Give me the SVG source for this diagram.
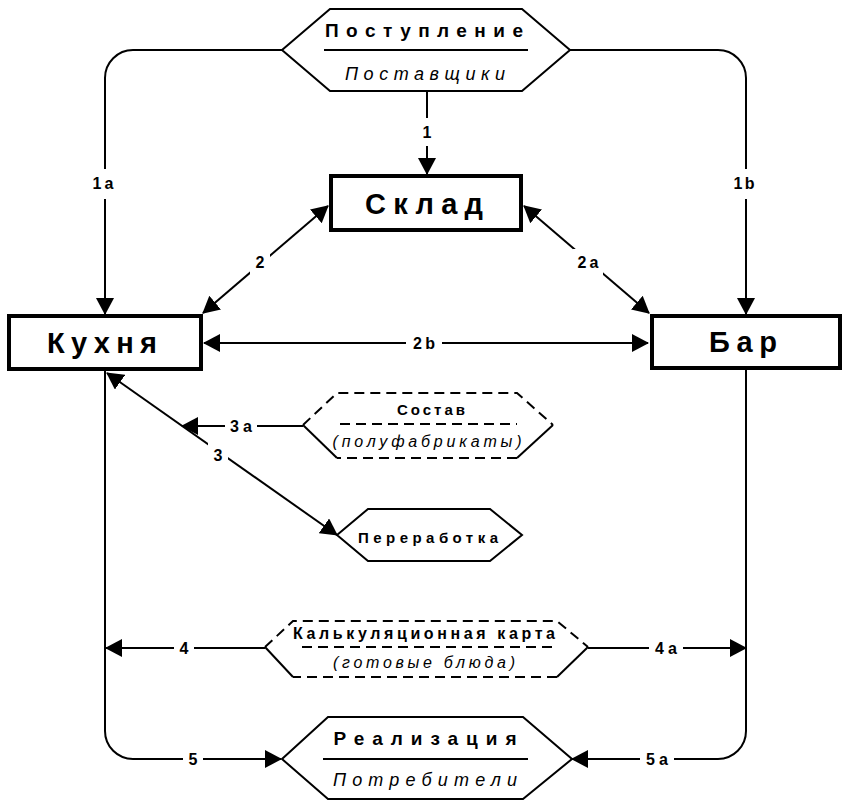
<svg xmlns="http://www.w3.org/2000/svg" width="843" height="800" viewBox="0 0 843 800">
<style>
.bg{fill:#fff}
.box{fill:#fff;stroke:#000;stroke-width:4}
.hex{fill:#fff;stroke:#000;stroke-width:2;stroke-linejoin:miter}
.dash{fill:none;stroke:#000;stroke-width:2;stroke-dasharray:10 6}
.solid{fill:none;stroke:#000;stroke-width:2}
.conn{fill:none;stroke:#000;stroke-width:2}
.big{font-family:"Liberation Sans",Arial,sans-serif;font-weight:bold;font-size:29px;text-anchor:middle;fill:#000}
.ttl{font-family:"Liberation Sans",Arial,sans-serif;font-weight:bold;font-size:19px;text-anchor:middle;fill:#000}
.sub{font-family:"Liberation Sans",Arial,sans-serif;font-style:italic;font-size:18px;text-anchor:middle;fill:#000}
.sm{font-family:"Liberation Sans",Arial,sans-serif;font-weight:bold;font-size:15px;text-anchor:middle;fill:#000}
.smi{font-family:"Liberation Sans",Arial,sans-serif;font-style:italic;font-size:16px;text-anchor:middle;fill:#000}
.lbl{font-family:"Liberation Sans",Arial,sans-serif;font-weight:bold;font-size:16px;text-anchor:middle;fill:#000}
.lb{fill:#fff;stroke:none}
</style>
<defs>
<marker id="ah" markerUnits="userSpaceOnUse" markerWidth="17" markerHeight="18" refX="16" refY="9" orient="auto-start-reverse" viewBox="0 0 17 18">
<path d="M0,0 L17,9 L0,18 z" fill="#000"/>
</marker>
</defs>
<rect class="bg" x="0" y="0" width="843" height="800"/>

<g id="connectors">
<path class="conn" d="M282,50 H133 A28,28 0 0 0 105,78 V314" marker-end="url(#ah)"/>
<path class="conn" d="M570,50 H718 A28,28 0 0 1 746,78 V314" marker-end="url(#ah)"/>
<path class="conn" d="M427,91 V174" marker-end="url(#ah)"/>
<path class="conn" d="M203,313 L328,206" marker-start="url(#ah)" marker-end="url(#ah)"/>
<path class="conn" d="M524,206 L649,313" marker-start="url(#ah)" marker-end="url(#ah)"/>
<path class="conn" d="M204,343 H648" marker-start="url(#ah)" marker-end="url(#ah)"/>
<path class="conn" d="M107,373 L337,535" marker-start="url(#ah)" marker-end="url(#ah)"/>
<path class="conn" d="M303,426 H182" marker-end="url(#ah)"/>
<path class="conn" d="M265,648 H106" marker-end="url(#ah)"/>
<path class="conn" d="M588,648 H746" marker-end="url(#ah)"/>
<path class="conn" d="M105,371 V731 A28,28 0 0 0 133,759 H281" marker-end="url(#ah)"/>
<path class="conn" d="M746,370 V731 A28,28 0 0 1 718,759 H572" marker-end="url(#ah)"/>
<g id="labels">
<rect class="lb" x="90" y="169" width="28" height="30"/><text class="lbl" x="103" y="189" textLength="21" lengthAdjust="spacing">1a</text>
<rect class="lb" x="730" y="169" width="28" height="30"/><text class="lbl" x="744" y="189" textLength="21" lengthAdjust="spacing">1b</text>
<rect class="lb" x="419" y="118" width="16" height="28"/><text class="lbl" x="427" y="138">1</text>
<rect class="lb" x="250" y="249" width="20" height="26"/><text class="lbl" x="260" y="268">2</text>
<rect class="lb" x="573" y="249" width="30" height="26"/><text class="lbl" x="588" y="268" textLength="21" lengthAdjust="spacing">2a</text>
<rect class="lb" x="406" y="333" width="36" height="20"/><text class="lbl" x="424" y="349" textLength="22" lengthAdjust="spacing">2b</text>
<rect class="lb" x="208" y="441" width="20" height="26"/><text class="lbl" x="218" y="461">3</text>
<rect class="lb" x="225" y="416" width="32" height="20"/><text class="lbl" x="241" y="432" textLength="22" lengthAdjust="spacing">3a</text>
<rect class="lb" x="174" y="638" width="20" height="20"/><text class="lbl" x="184" y="654">4</text>
<rect class="lb" x="649" y="638" width="34" height="20"/><text class="lbl" x="666" y="654" textLength="22" lengthAdjust="spacing">4a</text>
<rect class="lb" x="183" y="749" width="20" height="20"/><text class="lbl" x="193" y="765">5</text>
<rect class="lb" x="640" y="749" width="34" height="20"/><text class="lbl" x="657" y="765" textLength="22" lengthAdjust="spacing">5a</text>
</g>
</g>

<g id="postuplenie">
<polygon class="hex" points="282,50 330,9 522,9 570,50 522,91 330,91"/>
<line class="solid" x1="324" y1="50" x2="528" y2="50"/>
<text class="ttl" x="424" y="37" textLength="198" lengthAdjust="spacing">Поступление</text>
<text class="sub" x="425" y="80" textLength="160" lengthAdjust="spacing">Поставщики</text>
</g>

<g id="sklad">
<rect class="box" x="331" y="176" width="190" height="54"/>
<text class="big" x="424" y="214" textLength="118" lengthAdjust="spacing">Склад</text>
</g>

<g id="kukhnya">
<rect class="box" x="9" y="316" width="192" height="53"/>
<text class="big" x="102" y="353" textLength="110" lengthAdjust="spacing">Кухня</text>
</g>

<g id="bar">
<rect class="box" x="652" y="316" width="188" height="52"/>
<text class="big" x="743" y="352" textLength="68" lengthAdjust="spacing">Бар</text>
</g>

<g id="sostav">
<polygon points="303,425 337,393 517,393 553,425 517,458 337,458" fill="#fff" stroke="none"/>
<path class="dash" d="M303,425 L337,393 H517 L553,425"/>
<path class="solid" d="M553,425 L517,458"/>
<path class="dash" d="M517,458 H337"/>
<path class="solid" d="M337,458 L303,425"/>
<line class="dash" x1="340" y1="424" x2="517" y2="424"/>
<text class="sm" x="431" y="415" textLength="68" lengthAdjust="spacing">Состав</text>
<text class="smi" x="427" y="447" textLength="189" lengthAdjust="spacing">(полуфабрикаты)</text>
</g>

<g id="pererabotka">
<polygon class="hex" points="337,535 368,509 490,509 522,535 490,561 368,561"/>
<text class="sm" x="428" y="543" textLength="140" lengthAdjust="spacing">Переработка</text>
</g>

<g id="kalkulyatsiya">
<polygon points="265,647 293,621 557,621 588,647 557,677 293,677" fill="#fff" stroke="none"/>
<path class="dash" d="M265,647 L293,621 H557 L588,647"/>
<path class="solid" d="M588,647 L557,677"/>
<path class="dash" d="M557,677 H293"/>
<path class="solid" d="M293,677 L265,647"/>
<line class="dash" x1="302" y1="647" x2="557" y2="647"/>
<text class="sm" x="424" y="639" textLength="262" lengthAdjust="spacing" style="font-size:16px">Калькуляционная карта</text>
<text class="smi" x="424" y="668" textLength="182" lengthAdjust="spacing">(готовые блюда)</text>
</g>

<g id="realizatsiya">
<polygon class="hex" points="282,759 328,717 523,717 572,759 523,799 328,799"/>
<line class="solid" x1="323" y1="759" x2="528" y2="759"/>
<text class="ttl" x="425" y="745" textLength="183" lengthAdjust="spacing">Реализация</text>
<text class="sub" x="425" y="786" textLength="184" lengthAdjust="spacing">Потребители</text>
</g>
</svg>
